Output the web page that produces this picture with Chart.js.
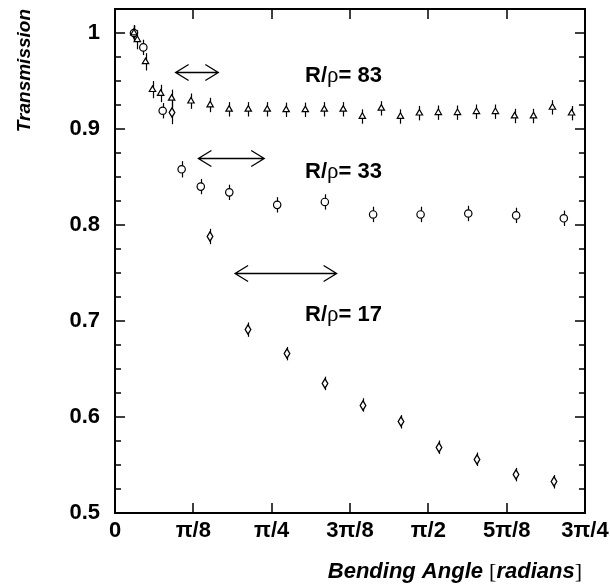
<!DOCTYPE html>
<html>
<head>
<meta charset="utf-8">
<script src="https://cdn.jsdelivr.net/npm/chart.js@4"></script>
<style>
  html, body { margin: 0; padding: 0; background: #fff; }
</style>
</head>
<body>
<canvas id="chart" width="610" height="588"></canvas>
<script>
// bending angle in radians, transmission, error
const triX = [0.095, 0.112, 0.153, 0.188, 0.229, 0.284, 0.381, 0.477, 0.572, 0.668, 0.763, 0.858, 0.954,
  1.049, 1.144, 1.240, 1.335, 1.431, 1.526, 1.621, 1.717, 1.812, 1.907, 2.003, 2.098, 2.193, 2.289];
const triY = [1.000, 0.993, 0.970, 0.941, 0.937, 0.932, 0.929, 0.925, 0.9205, 0.9205, 0.9205, 0.920, 0.920,
  0.9205, 0.9205, 0.913, 0.9215, 0.913, 0.9165, 0.917, 0.917, 0.918, 0.918, 0.9135, 0.9135, 0.9225, 0.9165];
const triErr = [0.008, 0.010, 0.009, 0.009, 0.009, 0.009, 0.008, 0.0075, 0.0075, 0.0075, 0.0075, 0.0075, 0.0075,
  0.0075, 0.0075, 0.0075, 0.0075, 0.0075, 0.0075, 0.0075, 0.0075, 0.0075, 0.0075, 0.0075, 0.0075, 0.0075, 0.0075];

const circX = [0.095, 0.142, 0.239, 0.334, 0.430, 0.573, 0.813, 1.052, 1.294, 1.532, 1.771, 2.011, 2.250];
const circY = [1.000, 0.985, 0.919, 0.858, 0.840, 0.834, 0.821, 0.824, 0.811, 0.811, 0.812, 0.810, 0.807];
const circErr = [0.008, 0.008, 0.008, 0.0085, 0.008, 0.008, 0.008, 0.008, 0.008, 0.008, 0.008, 0.008, 0.008];

const diaX = [0.095, 0.284, 0.476, 0.668, 0.860, 1.052, 1.245, 1.434, 1.626, 1.817, 2.009, 2.201];
const diaY = [1.000, 0.917, 0.788, 0.691, 0.666, 0.635, 0.6125, 0.595, 0.5685, 0.556, 0.540, 0.5325];
const diaErr = [0.008, 0.012, 0.008, 0.0075, 0.007, 0.007, 0.007, 0.007, 0.007, 0.007, 0.007, 0.007];

const xTickValues = [0, Math.PI / 8, Math.PI / 4, 3 * Math.PI / 8, Math.PI / 2, 5 * Math.PI / 8, 3 * Math.PI / 4];
const xTickLabels = ['0', 'π/8', 'π/4', '3π/8', 'π/2', '5π/8', '3π/4'];
const yTickValues = [0.5, 0.6, 0.7, 0.8, 0.9, 1.0];
const yTickLabels = ['0.5', '0.6', '0.7', '0.8', '0.9', '1'];
const yMinorValues = [0.525, 0.55, 0.575, 0.625, 0.65, 0.675, 0.725, 0.75, 0.775,
  0.825, 0.85, 0.875, 0.925, 0.95, 0.975];

// annotations: text labels and double arrows
const labelNames = ['83', '33', '17'];
const labelX = [0.953, 0.953, 0.953];
const labelY = [0.9493, 0.8493, 0.7003];
const arrowX1 = [0.304, 0.418, 0.602];
const arrowX2 = [0.518, 0.748, 1.111];
const arrowY = [0.9597, 0.870, 0.7497];

const SANS = '"Liberation Sans", Arial, sans-serif';
const SERIF = '"Liberation Serif", "Times New Roman", serif';

function diamondMarker() {
  const c = document.createElement('canvas');
  c.width = 8; c.height = 11;
  const g = c.getContext('2d');
  g.beginPath();
  g.moveTo(4, 0.8); g.lineTo(6.8, 5.5); g.lineTo(4, 10.2); g.lineTo(1.2, 5.5);
  g.closePath();
  g.fillStyle = '#fff'; g.fill();
  g.strokeStyle = '#000'; g.lineWidth = 1.3; g.stroke();
  return c;
}

function pts(xs, ys) {
  return xs.map((x, i) => ({x: x, y: ys[i]}));
}

// draw pieces of text with different fonts one after another
function drawParts(ctx, parts, x, y) {
  parts.forEach(([txt, font]) => {
    ctx.font = font;
    ctx.fillText(txt, x, y);
    x += ctx.measureText(txt).width;
  });
}
function partsWidth(ctx, parts) {
  let w = 0;
  parts.forEach(([txt, font]) => { ctx.font = font; w += ctx.measureText(txt).width; });
  return w;
}

const extras = {
  id: 'extras',
  beforeDatasetsDraw(chart) {
    const ctx = chart.ctx, sx = chart.scales.x, sy = chart.scales.y;
    ctx.save();
    ctx.strokeStyle = '#000';
    ctx.lineWidth = 1.2;
    [[triX, triY, triErr], [circX, circY, circErr], [diaX, diaY, diaErr]].forEach(([xa, ya, ea]) => {
      xa.forEach((x, i) => {
        const px = Math.round(sx.getPixelForValue(x)) + 0.5;
        ctx.beginPath();
        ctx.moveTo(px, sy.getPixelForValue(ya[i] + ea[i]));
        ctx.lineTo(px, sy.getPixelForValue(ya[i] - ea[i]));
        ctx.stroke();
      });
    });
    ctx.restore();
    // keep the diamond images crisp
    ctx.imageSmoothingEnabled = false;
  },
  afterDatasetsDraw(chart) {
    chart.ctx.imageSmoothingEnabled = true;
  },
  afterDraw(chart) {
    const ctx = chart.ctx, sx = chart.scales.x, sy = chart.scales.y;
    const a = chart.chartArea;
    ctx.save();
    ctx.strokeStyle = '#000';

    // frame
    ctx.lineWidth = 2;
    ctx.strokeRect(a.left, a.top, a.right - a.left, a.bottom - a.top);

    // inward ticks
    ctx.lineWidth = 1.5;
    ctx.beginPath();
    xTickValues.forEach(v => {
      const px = Math.round(sx.getPixelForValue(v));
      ctx.moveTo(px, a.bottom); ctx.lineTo(px, a.bottom - 10);
      ctx.moveTo(px, a.top); ctx.lineTo(px, a.top + 10);
    });
    yTickValues.forEach(v => {
      const py = Math.round(sy.getPixelForValue(v));
      ctx.moveTo(a.left, py); ctx.lineTo(a.left + 10, py);
      ctx.moveTo(a.right, py); ctx.lineTo(a.right - 10, py);
    });
    yMinorValues.forEach(v => {
      const py = Math.round(sy.getPixelForValue(v));
      ctx.moveTo(a.left, py); ctx.lineTo(a.left + 6, py);
      ctx.moveTo(a.right, py); ctx.lineTo(a.right - 6, py);
    });
    ctx.stroke();

    // double arrows
    ctx.lineWidth = 1.3;
    arrowY.forEach((v, i) => {
      const x1 = sx.getPixelForValue(arrowX1[i]);
      const x2 = sx.getPixelForValue(arrowX2[i]);
      const py = Math.round(sy.getPixelForValue(v)) + 0.5;
      ctx.beginPath();
      ctx.moveTo(x1, py); ctx.lineTo(x2, py);
      ctx.moveTo(x1 + 13, py - 8); ctx.lineTo(x1, py); ctx.lineTo(x1 + 13, py + 8);
      ctx.moveTo(x2 - 13, py - 8); ctx.lineTo(x2, py); ctx.lineTo(x2 - 13, py + 8);
      ctx.stroke();
    });

    ctx.fillStyle = '#000';
    ctx.textBaseline = 'alphabetic';
    ctx.textAlign = 'left';

    // R/rho labels
    const lb = 'bold 22px ' + SANS;
    const lr = '23px ' + SERIF;
    labelNames.forEach((n, i) => {
      drawParts(ctx, [['R/', lb], ['ρ', lr], ['= ' + n, lb]],
        sx.getPixelForValue(labelX[i]), sy.getPixelForValue(labelY[i]));
    });

    // x axis title, right aligned under the axis
    const tb = 'italic bold 22px ' + SANS;
    const tr = '22px ' + SERIF;
    const xParts = [['Bending Angle ', tb], ['[', tr], ['radians', tb], [']', tr]];
    drawParts(ctx, xParts, a.right - 3 - partsWidth(ctx, xParts), 578);
    ctx.restore();
  }
};

const tickFont = {family: SANS, size: 22, weight: 'bold'};

new Chart(document.getElementById('chart'), {
  type: 'scatter',
  data: {
    datasets: [
      {
        label: 'R/ρ = 83',
        data: pts(triX, triY),
        pointStyle: 'triangle',
        pointRadius: 3.7,
        pointBorderWidth: 1.2,
        pointBorderColor: '#000',
        pointBackgroundColor: '#fff'
      },
      {
        label: 'R/ρ = 33',
        data: pts(circX, circY),
        pointStyle: 'circle',
        pointRadius: 3.7,
        pointBorderWidth: 1.2,
        pointBorderColor: '#000',
        pointBackgroundColor: '#fff'
      },
      {
        label: 'R/ρ = 17',
        data: pts(diaX, diaY),
        pointStyle: diamondMarker(),
        pointRadius: 4,
        pointBorderColor: '#000',
        pointBackgroundColor: '#fff'
      }
    ]
  },
  options: {
    responsive: false,
    animation: false,
    layout: {padding: {top: 9, right: 25, left: 0, bottom: 0}},
    plugins: {
      legend: {display: false},
      tooltip: {enabled: false}
    },
    scales: {
      x: {
        type: 'linear',
        min: 0,
        max: 3 * Math.PI / 4,
        afterFit: s => { s.height = 75; s.paddingLeft = 0; s.paddingRight = 0; },
        afterBuildTicks: s => { s.ticks = xTickValues.map(v => ({value: v})); },
        grid: {display: false, drawTicks: false},
        border: {display: false},
        ticks: {
          color: '#000',
          font: tickFont,
          padding: 5,
          maxRotation: 0,
          autoSkip: false,
          callback: (v, i) => xTickLabels[i]
        }
      },
      y: {
        type: 'linear',
        min: 0.5,
        max: 1.025,
        afterFit: s => { s.width = 115; s.paddingTop = 0; s.paddingBottom = 0; },
        afterBuildTicks: s => { s.ticks = yTickValues.map(v => ({value: v})); },
        grid: {display: false, drawTicks: false},
        border: {display: false},
        ticks: {
          color: '#000',
          font: tickFont,
          padding: 15,
          autoSkip: false,
          callback: (v, i) => yTickLabels[i]
        },
        title: {
          display: true,
          text: 'Transmission',
          align: 'end',
          color: '#000',
          font: {family: SANS, size: 19, weight: 'bold', style: 'italic'},
          padding: {top: 13, bottom: 0}
        }
      }
    }
  },
  plugins: [extras]
});
</script>
</body>
</html>
